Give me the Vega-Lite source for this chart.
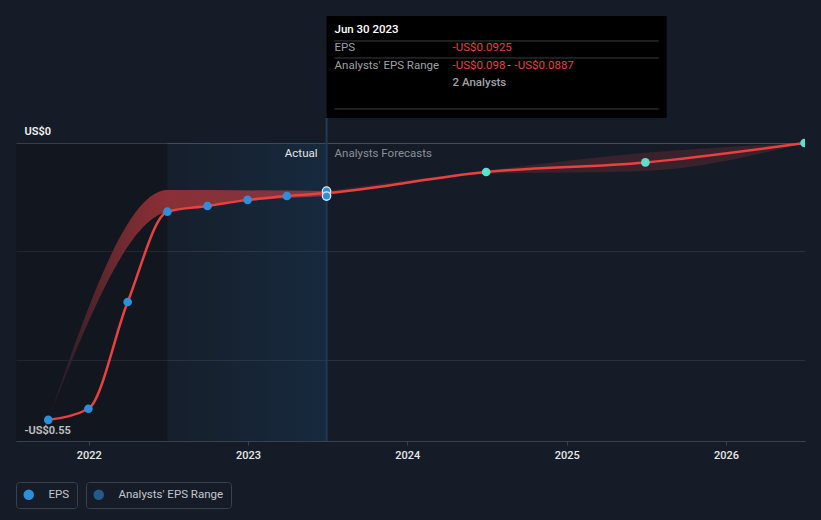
{
  "$schema": "https://vega.github.io/schema/vega-lite/v6.json",
  "width": 789,
  "height": 441,
  "autosize": {"type": "none"},
  "padding": {"left": 16, "right": 16, "top": 0, "bottom": 79},
  "background": "#161c27",
  "config": {"view": {"stroke": null}, "font": "Roboto"},
  "datasets": {
    "eps": [
      {"date": "2021-09-30", "eps": -0.511, "type": "actual"},
      {"date": "2021-12-31", "eps": -0.4905, "type": "actual"},
      {"date": "2022-03-31", "eps": -0.2935, "type": "actual"},
      {"date": "2022-06-30", "eps": -0.1268, "type": "actual"},
      {"date": "2022-09-30", "eps": -0.1163, "type": "actual"},
      {"date": "2022-12-31", "eps": -0.105, "type": "actual"},
      {"date": "2023-03-31", "eps": -0.0978, "type": "actual"},
      {"date": "2023-06-30", "eps": -0.0925, "type": "actual"},
      {"date": "2024-06-30", "eps": -0.0535, "type": "forecast"},
      {"date": "2025-06-30", "eps": -0.0358, "type": "forecast"},
      {"date": "2026-06-30", "eps": 0.0, "type": "forecast"}
    ],
    "band": [
      {"date": "2021-09-30", "lo": -0.511, "hi": -0.511, "phase": "past"},
      {"date": "2022-06-30", "lo": -0.1268, "hi": -0.0867, "phase": "past"},
      {"date": "2023-06-30", "lo": -0.098, "hi": -0.0887, "phase": "past"},
      {"date": "2023-06-30", "lo": -0.098, "hi": -0.0887, "phase": "forecast"},
      {"date": "2024-06-30", "lo": -0.057, "hi": -0.051, "phase": "forecast"},
      {"date": "2025-06-30", "lo": -0.0515, "hi": -0.0182, "phase": "forecast"},
      {"date": "2026-06-30", "lo": 0.0, "hi": 0.0, "phase": "forecast"}
    ],
    "regions": [
      {"start": "2021-07-18", "end": "2022-06-30", "period": "past"},
      {"start": "2022-06-30", "end": "2023-06-30", "period": "highlight"}
    ],
    "tip": [
      {"date": "2023-06-30", "eps": -0.0925, "title": "Jun 30 2023", "epsLabel": "-US$0.0925", "loLabel": "-US$0.098", "hiLabel": "-US$0.0887", "analysts": "2 Analysts"}
    ],
    "hover": [
      {"date": "2023-06-30", "v": -0.0887},
      {"date": "2023-06-30", "v": -0.098}
    ],
    "phaseLabels": [
      {"date": "2023-06-30", "label": "Actual", "side": "left"},
      {"date": "2023-06-30", "label": "Analysts Forecasts", "side": "right"}
    ]
  },
  "encoding": {
    "x": {
      "field": "date",
      "type": "temporal",
      "title": null,
      "scale": {
        "type": "utc",
        "domain": [
          {"year": 2021, "month": 7, "date": 18, "utc": true},
          {"year": 2026, "month": 7, "date": 1, "utc": true}
        ]
      },
      "axis": {
        "title": null,
        "values": [
          {"year": 2022, "month": 1, "date": 1, "utc": true},
          {"year": 2023, "month": 1, "date": 1, "utc": true},
          {"year": 2024, "month": 1, "date": 1, "utc": true},
          {"year": 2025, "month": 1, "date": 1, "utc": true},
          {"year": 2026, "month": 1, "date": 1, "utc": true}
        ],
        "format": "%Y",
        "formatType": "utc",
        "grid": false,
        "domainColor": "#3b414c",
        "tickColor": "#3b414c",
        "tickSize": 4,
        "labelPadding": 4,
        "labelColor": "#e8e8e8",
        "labelFontSize": 11,
        "labelFontWeight": 500,
        "labelFlush": false
      }
    }
  },
  "layer": [
    {
      "data": {"name": "regions"},
      "transform": [{"filter": "datum.period === 'past'"}],
      "mark": {"type": "rect", "color": "#000000", "opacity": 0.2},
      "encoding": {
        "x": {"field": "start", "type": "temporal", "title": null},
        "x2": {"field": "end"},
        "y": {"datum": 0, "type": "quantitative", "title": null},
        "y2": {"datum": -0.55}
      }
    },
    {
      "data": {"name": "regions"},
      "transform": [{"filter": "datum.period === 'highlight'"}],
      "mark": {
        "type": "rect",
        "color": {
          "gradient": "linear",
          "x1": 0, "x2": 1, "y1": 0, "y2": 0,
          "stops": [
            {"offset": 0, "color": "rgba(24,70,110,0.06)"},
            {"offset": 1, "color": "rgba(24,70,110,0.32)"}
          ]
        }
      },
      "encoding": {
        "x": {"field": "start", "type": "temporal", "title": null},
        "x2": {"field": "end"},
        "y": {"datum": 0, "type": "quantitative", "title": null},
        "y2": {"datum": -0.55}
      }
    },
    {
      "data": {"name": "tip"},
      "mark": {"type": "rule", "color": "#1f3a56", "strokeWidth": 2},
      "encoding": {
        "y": {"datum": 0.0461, "type": "quantitative", "title": null},
        "y2": {"datum": -0.55}
      }
    },
    {
      "data": {"name": "band"},
      "transform": [{"filter": "datum.phase === 'past'"}],
      "mark": {
        "type": "area",
        "interpolate": "monotone",
        "color": {
          "gradient": "linear",
          "x1": 0, "x2": 1, "y1": 0, "y2": 0,
          "stops": [
            {"offset": 0, "color": "#1c1b24"},
            {"offset": 0.1, "color": "#3f2028"},
            {"offset": 0.22, "color": "#66282f"},
            {"offset": 0.36, "color": "#822d33"},
            {"offset": 0.43, "color": "#8a2f35"},
            {"offset": 1, "color": "#7d3742"}
          ]
        }
      },
      "encoding": {
        "y": {"field": "hi", "type": "quantitative", "title": null},
        "y2": {"field": "lo"}
      }
    },
    {
      "data": {"name": "band"},
      "transform": [{"filter": "datum.phase === 'forecast'"}],
      "mark": {"type": "area", "interpolate": "monotone", "color": "#e8413f", "opacity": 0.17},
      "encoding": {
        "y": {"field": "hi", "type": "quantitative", "title": null},
        "y2": {"field": "lo"}
      }
    },
    {
      "data": {"name": "eps"},
      "mark": {"type": "line", "interpolate": "monotone", "color": "#e8413f", "strokeWidth": 2.5},
      "encoding": {
        "y": {
          "field": "eps",
          "type": "quantitative",
          "title": null,
          "scale": {"domain": [-0.55, 0.2639], "nice": false, "zero": false},
          "axis": {
            "title": null,
            "values": [0, -0.2, -0.4, -0.55],
            "grid": true,
            "gridColor": {"condition": {"test": "datum.value === 0", "value": "#474d57"}, "value": "#2b313b"},
            "domain": false,
            "ticks": false,
            "tickSize": 0,
            "labelAlign": "left",
            "labelBaseline": "alphabetic",
            "labelPadding": -8,
            "labelOffset": -8,
            "labelColor": "#f2f2f2",
            "labelFontSize": 11,
            "labelFontWeight": 600,
            "labelOverlap": false,
            "labelFlush": false,
            "labelExpr": "datum.value === 0 ? 'US$0' : (datum.value < -0.5 ? '-US$0.55' : '')"
          }
        }
      }
    },
    {
      "data": {"name": "eps"},
      "transform": [{"filter": "datum.type === 'actual'"}],
      "mark": {"type": "point", "filled": true, "color": "#2b8fdc", "size": 75, "opacity": 1},
      "encoding": {
        "y": {"field": "eps", "type": "quantitative", "title": null},
        "shape": {
          "datum": "EPS",
          "type": "nominal",
          "scale": {"range": ["circle"]},
          "legend": {
            "title": null,
            "orient": "none",
            "legendX": 0,
            "legendY": 482,
            "strokeColor": "#3b414c",
            "cornerRadius": 3,
            "padding": 7,
            "labelColor": "#c3c7cd",
            "labelFontSize": 11.5,
            "labelOffset": 14,
            "symbolSize": 110,
            "symbolFillColor": "#2b8fdc",
            "symbolStrokeWidth": 0
          }
        }
      }
    },
    {
      "data": {"name": "eps"},
      "transform": [{"filter": "datum.type === 'forecast'"}],
      "mark": {"type": "point", "filled": true, "color": "#5de0c9", "size": 75, "opacity": 1, "clip": true},
      "encoding": {
        "y": {"field": "eps", "type": "quantitative", "title": null}
      }
    },
    {
      "data": {"name": "hover"},
      "mark": {"type": "point", "filled": true, "size": 70, "opacity": 1, "stroke": "#dcebf7", "strokeWidth": 1.3},
      "encoding": {
        "y": {"field": "v", "type": "quantitative", "title": null},
        "fill": {
          "datum": "Analysts' EPS Range",
          "type": "nominal",
          "scale": {"range": ["#2d8fdd"]},
          "legend": {
            "title": null,
            "orient": "none",
            "legendX": 70,
            "legendY": 482,
            "strokeColor": "#3b414c",
            "cornerRadius": 3,
            "padding": 7,
            "labelColor": "#c3c7cd",
            "labelFontSize": 11.5,
            "labelOffset": 14,
            "symbolSize": 110,
            "symbolType": "circle",
            "symbolOpacity": 0.55,
            "symbolStrokeWidth": 0
          }
        }
      }
    },
    {
      "data": {"name": "phaseLabels"},
      "transform": [{"filter": "datum.side === 'left'"}],
      "mark": {"type": "text", "align": "right", "baseline": "middle", "dx": -9, "dy": 11, "fontSize": 11.5, "color": "#e6e6e6"},
      "encoding": {
        "y": {"datum": 0, "type": "quantitative", "title": null},
        "text": {"field": "label"}
      }
    },
    {
      "data": {"name": "phaseLabels"},
      "transform": [{"filter": "datum.side === 'right'"}],
      "mark": {"type": "text", "align": "left", "baseline": "middle", "dx": 8, "dy": 11, "fontSize": 11.5, "color": "#8b9099"},
      "encoding": {
        "y": {"datum": 0, "type": "quantitative", "title": null},
        "text": {"field": "label"}
      }
    },
    {
      "data": {"name": "tip"},
      "mark": {"type": "rect", "color": "#000000"},
      "encoding": {
        "x2": {"datum": {"year": 2025, "month": 8, "date": 18, "utc": true}},
        "y": {"datum": 0.2344, "type": "quantitative", "title": null},
        "y2": {"datum": 0.0461}
      }
    },
    {
      "data": {"name": "tip"},
      "mark": {"type": "rule", "color": "#3c3c3c", "strokeWidth": 1},
      "encoding": {
        "x": {"datum": {"year": 2023, "month": 7, "date": 18, "utc": true}, "type": "temporal", "title": null},
        "x2": {"datum": {"year": 2025, "month": 7, "date": 31, "utc": true}},
        "y": {"datum": 0.1883, "type": "quantitative", "title": null}
      }
    },
    {
      "data": {"name": "tip"},
      "mark": {"type": "rule", "color": "#3c3c3c", "strokeWidth": 1},
      "encoding": {
        "x": {"datum": {"year": 2023, "month": 7, "date": 18, "utc": true}, "type": "temporal", "title": null},
        "x2": {"datum": {"year": 2025, "month": 7, "date": 31, "utc": true}},
        "y": {"datum": 0.1569, "type": "quantitative", "title": null}
      }
    },
    {
      "data": {"name": "tip"},
      "mark": {"type": "rule", "color": "#3c3c3c", "strokeWidth": 1},
      "encoding": {
        "x": {"datum": {"year": 2023, "month": 7, "date": 18, "utc": true}, "type": "temporal", "title": null},
        "x2": {"datum": {"year": 2025, "month": 7, "date": 31, "utc": true}},
        "y": {"datum": 0.0628, "type": "quantitative", "title": null}
      }
    },
    {
      "data": {"name": "tip"},
      "mark": {"type": "text", "align": "left", "baseline": "middle", "dx": 8, "dy": -163, "fontSize": 11.5, "fontWeight": 500, "color": "#ffffff"},
      "encoding": {
        "y": {"field": "eps", "type": "quantitative", "title": null},
        "text": {"field": "title"}
      }
    },
    {
      "data": {"name": "tip"},
      "mark": {"type": "text", "align": "left", "baseline": "middle", "dx": 8, "dy": -145, "fontSize": 11.5, "color": "#9da1a8", "text": "EPS"},
      "encoding": {
        "y": {"field": "eps", "type": "quantitative", "title": null}
      }
    },
    {
      "data": {"name": "tip"},
      "mark": {"type": "text", "align": "left", "baseline": "middle", "dx": 126, "dy": -145, "fontSize": 11.5, "color": "#e8413f"},
      "encoding": {
        "y": {"field": "eps", "type": "quantitative", "title": null},
        "text": {"field": "epsLabel"}
      }
    },
    {
      "data": {"name": "tip"},
      "mark": {"type": "text", "align": "left", "baseline": "middle", "dx": 8, "dy": -127, "fontSize": 11.5, "color": "#9da1a8", "text": "Analysts' EPS Range"},
      "encoding": {
        "y": {"field": "eps", "type": "quantitative", "title": null}
      }
    },
    {
      "data": {"name": "tip"},
      "mark": {"type": "text", "align": "left", "baseline": "middle", "dx": 126, "dy": -127, "fontSize": 11.5, "color": "#e8413f"},
      "encoding": {
        "y": {"field": "eps", "type": "quantitative", "title": null},
        "text": {"field": "loLabel"}
      }
    },
    {
      "data": {"name": "tip"},
      "mark": {"type": "text", "align": "left", "baseline": "middle", "dx": 181, "dy": -127, "fontSize": 11.5, "color": "#9da1a8", "text": "-"},
      "encoding": {
        "y": {"field": "eps", "type": "quantitative", "title": null}
      }
    },
    {
      "data": {"name": "tip"},
      "mark": {"type": "text", "align": "left", "baseline": "middle", "dx": 188, "dy": -127, "fontSize": 11.5, "color": "#e8413f"},
      "encoding": {
        "y": {"field": "eps", "type": "quantitative", "title": null},
        "text": {"field": "hiLabel"}
      }
    },
    {
      "data": {"name": "tip"},
      "mark": {"type": "text", "align": "left", "baseline": "middle", "dx": 126, "dy": -110, "fontSize": 11.5, "fontWeight": 500, "color": "#a0a4aa"},
      "encoding": {
        "y": {"field": "eps", "type": "quantitative", "title": null},
        "text": {"field": "analysts"}
      }
    }
  ]
}
